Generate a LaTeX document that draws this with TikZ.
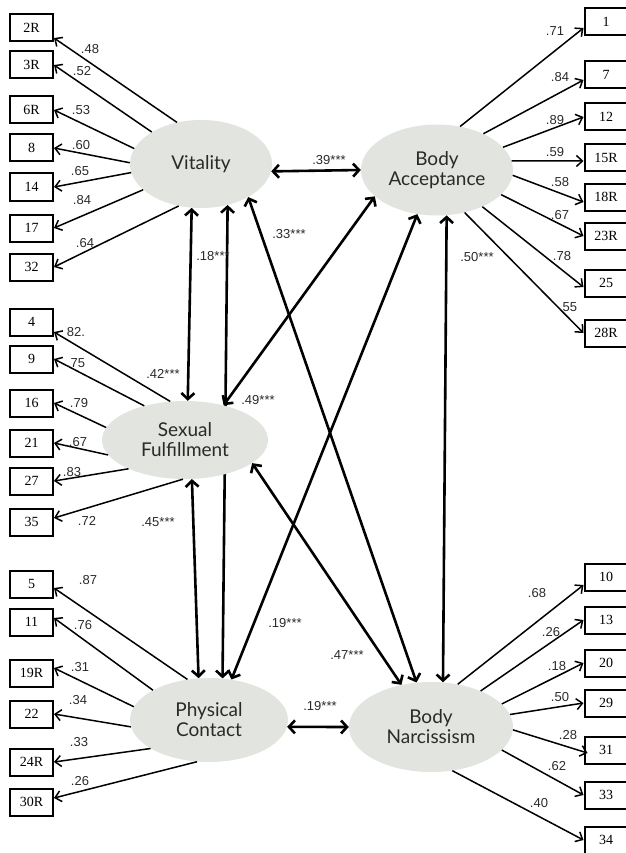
\documentclass[tikz,border=0pt]{standalone}
\usepackage{fontspec}
\setmainfont{Liberation Serif}
\newfontfamily\latfont{Lato}
\newfontfamily\labfont{Liberation Sans}
\usetikzlibrary{shapes.geometric,arrows.meta,backgrounds}
\definecolor{latgray}{HTML}{E2E4DF}
\definecolor{txtgray}{HTML}{2A2A2A}

\tikzset{
	box/.style={draw,line width=2pt,minimum width=43pt,minimum height=27pt,inner sep=0pt,font=\fontsize{14}{14}\selectfont},
	latent/.style={ellipse,fill=latgray,inner sep=0pt,align=center,text=txtgray,font=\latfont\fontsize{19}{20}\selectfont},
	lab/.style={inner sep=0pt,text=txtgray,font=\labfont\fontsize{13}{13}\selectfont},
	ind/.style={line width=1.5pt,-{Straight Barb[length=6pt,width=11pt]}},
	cov/.style={line width=2.6pt,{Straight Barb[length=6pt,width=13pt]}-{Straight Barb[length=6pt,width=13pt]}}
}

\begin{document}
\begin{tikzpicture}[x=1pt,y=-1pt]
		\useasboundingbox (0,0) rectangle (625,853);
		% latent factors
		\node[latent,minimum width=142pt,minimum height=88pt] (vit) at (201,164) {Vitality};
		\node[latent,minimum width=152pt,minimum height=91pt] (acc) at (437,170) {Body\\Acceptance};
		\node[latent,minimum width=166pt,minimum height=78pt] (sex) at (185,440) {Sexual\\Fulfillment};
		\node[latent,minimum width=158pt,minimum height=84pt] (phy) at (209,720) {Physical\\Contact};
		\node[latent,minimum width=164pt,minimum height=90pt] (nar) at (431,727) {Body\\Narcissism};

		% Vitality items
		\node[box] (q2R) at (31.5,28) {2R};
		\node[box] (q3R) at (31.5,65) {3R};
		\node[box] (q6R) at (31.5,110) {6R};
		\node[box] (q8) at (31.5,148) {8};
		\node[box] (q14) at (31.5,187) {14};
		\node[box] (q17) at (31.5,228) {17};
		\node[box] (q32) at (31.5,267) {32};
		\draw[ind] (vit.120) -- ([yshift=-10pt]q2R.east);
		\draw[ind] (vit.147) -- (q3R.east);
		\draw[ind] (vit.167) -- (q6R.east);
		\draw[ind] (vit.179) -- (q8.east);
		\draw[ind] (vit.187) -- (q14.east);
		\draw[ind] (vit.204) -- (q17.east);
		\draw[ind] (vit.242) -- (q32.east);
		\node[lab] (w2R) at (90,49) {.48};
		\node[lab] (w3R) at (82,71) {.52};
		\node[lab] (w6R) at (81,110) {.53};
		\node[lab] (w8) at (81,145) {.60};
		\node[lab] (w14) at (80,171) {.65};
		\node[lab] (w17) at (82,200) {.84};
		\node[lab] (w32) at (85,243) {.64};

		% Body Acceptance items
		\node[box] (q1) at (606,22) {1};
		\node[box] (q7) at (606,75) {7};
		\node[box] (q12) at (606,117) {12};
		\node[box] (q15R) at (606,158) {15R};
		\node[box] (q18R) at (606,197) {18R};
		\node[box] (q23R) at (606,236) {23R};
		\node[box] (q25) at (606,283) {25};
		\node[box] (q28R) at (606,333) {28R};
		\draw[ind] (acc.62) -- ([yshift=-6pt]q1.west);
		\draw[ind] (acc.38) -- ([yshift=-5pt]q7.west);
		\draw[ind] (acc.19) -- (q12.west);
		\draw[ind] (acc.7) -- ([yshift=-3pt]q15R.west);
		\draw[ind] (acc.356) -- ([yshift=-5pt]q18R.west);
		\draw[ind] (acc.339) -- (q23R.west);
		\draw[ind] (acc.321) -- ([yshift=-4pt]q25.west);
		\draw[ind] (acc.303) -- (q28R.west);
		\node[lab] (w1) at (555,31) {.71};
		\node[lab] (w7) at (560,77) {.84};
		\node[lab] (w12) at (555,120) {.89};
		\node[lab] (w15R) at (555,152) {.59};
		\node[lab] (w18R) at (560,182) {.58};
		\node[lab] (w23R) at (560,215) {.67};
		\node[lab] (w25) at (562,256) {.78};
		\node[lab] (w28R) at (568,307) {.55};

		% Sexual Fulfillment items
		\node[box] (q4) at (31.5,322) {4};
		\node[box] (q9) at (31.5,359) {9};
		\node[box] (q16) at (31.5,403) {16};
		\node[box] (q21) at (31.5,443) {21};
		\node[box] (q27) at (31.5,481) {27};
		\node[box] (q35) at (31.5,522) {35};
		\draw[ind] (sex.111) -- ([yshift=-10pt]q4.east);
		\draw[ind] (sex.140) -- (q9.east);
		\draw[ind] (sex.171) -- (q16.east);
		\draw[ind] (sex.191) -- (q21.east);
		\draw[ind] (sex.207) -- (q27.east);
		\draw[ind] (sex.267) -- ([yshift=4pt]q35.east);
		\node[lab] (w4) at (76,332) {82.};
		\node[lab] (w9) at (76,363) {.75};
		\node[lab] (w16) at (79,403) {.79};
		\node[lab] (w21) at (78,442) {.67};
		\node[lab] (w27) at (72,472) {.83};
		\node[lab] (w35) at (87,521) {.72};

		% Physical Contact items
		\node[box] (q5) at (31.5,584) {5};
		\node[box] (q11) at (31.5,622) {11};
		\node[box] (q19R) at (31.5,673) {19R};
		\node[box] (q22) at (31.5,714) {22};
		\node[box] (q24R) at (31.5,762) {24R};
		\node[box] (q30R) at (31.5,802) {30R};
		\draw[ind] (phy.118) -- ([yshift=-4pt]q5.east);
		\draw[ind] (phy.152) -- ([yshift=4pt]q11.east);
		\draw[ind] (phy.170) -- ([yshift=5pt]q19R.east);
		\draw[ind] (phy.185) -- (q22.east);
		\draw[ind] (phy.206) -- (q24R.east);
		\draw[ind] (phy.254) -- ([yshift=4pt]q30R.east);
		\node[lab] (w5) at (88,580) {.87};
		\node[lab] (w11) at (83,625) {.76};
		\node[lab] (w19R) at (80,667) {.31};
		\node[lab] (w22) at (78,700) {.34};
		\node[lab] (w24R) at (79,742) {.33};
		\node[lab] (w30R) at (80,781) {.26};

		% Body Narcissism items
		\node[box] (q10) at (606,577) {10};
		\node[box] (q13) at (606,620) {13};
		\node[box] (q20) at (606,663) {20};
		\node[box] (q29) at (606,703) {29};
		\node[box] (q31) at (606,750) {31};
		\node[box] (q33) at (606,795) {33};
		\node[box] (q34) at (606,840) {34};
		\draw[ind] (nar.58) -- ([yshift=-8pt]q10.west);
		\draw[ind] (nar.36) -- (q13.west);
		\draw[ind] (nar.18) -- (q20.west);
		\draw[ind] (nar.9) -- (q29.west);
		\draw[ind] (nar.358) -- ([xshift=4pt,yshift=-3pt]q31.west);
		\draw[ind] (nar.342) -- (q33.west);
		\draw[ind] (nar.296) -- (q34.west);
		\node[lab] (w10) at (537,593) {.68};
		\node[lab] (w13) at (551,632) {.26};
		\node[lab] (w20) at (557,666) {.18};
		\node[lab] (w29) at (560,697) {.50};
		\node[lab] (w31) at (568,735) {.28};
		\node[lab] (w33) at (557,766) {.62};
		\node[lab] (w34) at (539,803) {.40};

		% correlations
		\begin{scope}[on background layer]
			\draw[cov] (vit.354) -- (acc.west);
			\draw[cov] (vit.258) -- (sex.86);
			\draw[cov] (vit.303) -- (phy.72);
			\draw[cov] (vit.325) -- (nar.108);
			\draw[cov] (acc.203) -- (sex.42);
			\draw[cov] (acc.246) -- (phy.61);
			\draw[cov] (acc.282) -- (nar.75);
			\draw[cov] (sex.280) -- (phy.104);
			\draw[cov] (sex.341) -- (nar.125);
			\draw[cov] (phy.355) -- (nar.west);
		\end{scope}
		\node[lab] (cVA) at (329,160) {.39***};
		\node[lab] (cVS) at (213,256) {.18***};
		\node[lab] (cVN) at (289,234) {.33***};
		\node[lab] (cVP) at (163,374) {.42***};
		\node[lab] (cAS) at (258,400) {.49***};
		\node[lab] (cSP) at (158,522) {.45***};
		\node[lab] (cAN) at (477,257) {.50***};
		\node[lab] (cAP) at (285,623) {.19***};
		\node[lab] (cSN) at (347,655) {.47***};
		\node[lab] (cPN) at (320,706) {.19***};
	\end{tikzpicture}
\end{document}
